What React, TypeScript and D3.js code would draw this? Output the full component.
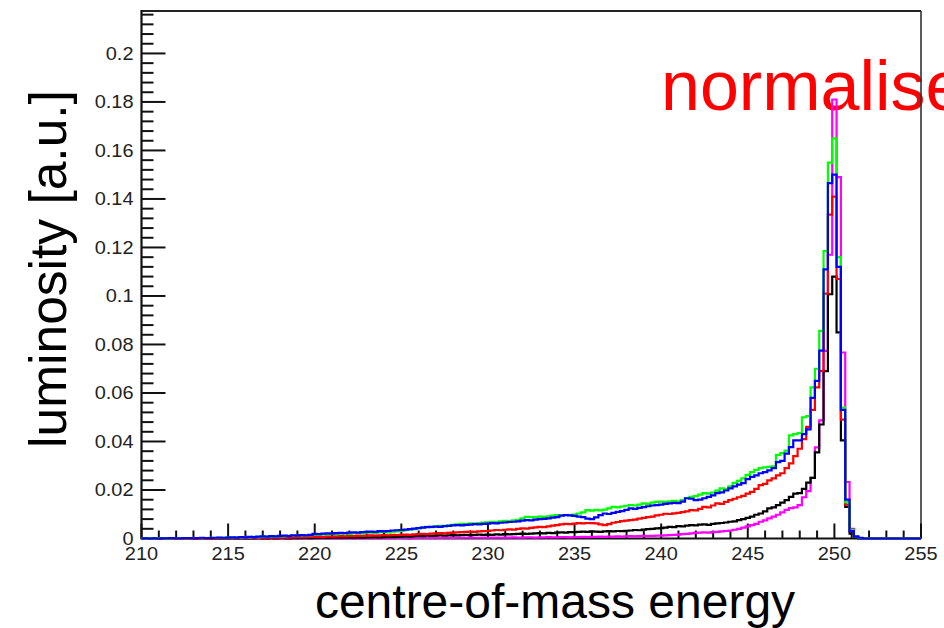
import React from 'react';
import * as d3 from 'd3';

const X_MIN = 210;
const X_MAX = 255;
const Y_MAX = 0.2175;
const BIN_WIDTH = 0.25;
const FIRST_BIN_LOW = 209.875;

const xTickLabels = ['210', '215', '220', '225', '230', '235', '240', '245', '250', '255'];
const yTickLabels = ['0', '0.02', '0.04', '0.06', '0.08', '0.1', '0.12', '0.14', '0.16', '0.18', '0.2'];

// bin contents, bins of 0.25 centred on 210, 210.25, ... 255
const magenta = [
  0, 0, 0, 0, 0, 0, 0, 0, 0, 0, 0, 0, 0, 0, 0, 0, 0, 0, 0, 0,
  0, 0, 0, 0, 0, 0, 0, 0, 0, 0, 0, 0, 0, 0, 0, 0, 0, 0, 0, 0,
  0, 0, 0, 0.0001, 0, 0.0001, 0, 0.0001, 0.0001, 0, 0.0001, 0.0001, 0.0001, 0.0002, 0.0001, 0.0001, 0.0002, 0.0001, 0.0002, 0.0002,
  0.0002, 0.0002, 0.0001, 0.0002, 0.0002, 0.0003, 0.0002, 0.0002, 0.0003, 0.0002, 0.0003, 0.0003, 0.0002, 0.0003, 0.0003, 0.0003, 0.0004, 0.0003, 0.0003, 0.0004,
  0.0003, 0.0004, 0.0004, 0.0003, 0.0004, 0.0004, 0.0005, 0.0004, 0.0004, 0.0005, 0.0005, 0.0004, 0.0005, 0.0005, 0.0006, 0.0005, 0.0005, 0.0006, 0.0006, 0.0005,
  0.0006, 0.0006, 0.0007, 0.0006, 0.0007, 0.0007, 0.0008, 0.0007, 0.0008, 0.0008, 0.0009, 0.0008, 0.0009, 0.001, 0.0009, 0.001, 0.0011, 0.001, 0.0011, 0.0012,
  0.0012, 0.0013, 0.0014, 0.0015, 0.0016, 0.0018, 0.0019, 0.0021, 0.0023, 0.0024, 0.0025, 0.0024, 0.0026, 0.0027, 0.0029, 0.0031, 0.0033, 0.0036, 0.004, 0.0045,
  0.005, 0.0055, 0.006, 0.0069, 0.0075, 0.0083, 0.009, 0.0098, 0.0108, 0.0118, 0.0125, 0.0128, 0.0138, 0.017, 0.0195, 0.025, 0.0376, 0.0487, 0.0774, 0.117,
  0.181, 0.149, 0.0767, 0.0233, 0.004, 0.001, 0.0002, 0, 0, 0, 0, 0, 0, 0, 0, 0, 0, 0, 0, 0, 0,
];

const black = [
  0, 0, 0, 0, 0, 0, 0, 0, 0, 0, 0, 0, 0, 0, 0, 0, 0, 0, 0, 0,
  0, 0, 0, 0, 0, 0, 0, 0.0001, 0, 0, 0.0001, 0, 0.0001, 0.0001, 0, 0.0001, 0.0001, 0.0001, 0.0002, 0.0001,
  0.0002, 0.0002, 0.0003, 0.0002, 0.0003, 0.0003, 0.0004, 0.0003, 0.0004, 0.0004, 0.0005, 0.0004, 0.0005, 0.0005, 0.0006, 0.0005, 0.0006, 0.0007, 0.0006, 0.0007,
  0.0008, 0.0009, 0.0008, 0.001, 0.0011, 0.001, 0.0012, 0.0011, 0.0012, 0.0013, 0.0012, 0.0013, 0.0014, 0.0013, 0.0014, 0.0015, 0.0014, 0.0015, 0.0016, 0.0015,
  0.0016, 0.0015, 0.0017, 0.0016, 0.0018, 0.0017, 0.0018, 0.0019, 0.002, 0.0019, 0.002, 0.0021, 0.0022, 0.0021, 0.0023, 0.0022, 0.0024, 0.0025, 0.0024, 0.0026,
  0.0026, 0.0027, 0.0028, 0.0027, 0.0029, 0.0028, 0.0027, 0.0029, 0.003, 0.0029, 0.0031, 0.003, 0.0032, 0.0033, 0.0035, 0.0034, 0.0037, 0.0039, 0.004, 0.0042,
  0.0043, 0.0045, 0.0048, 0.0047, 0.0051, 0.005, 0.0053, 0.0055, 0.0054, 0.0057, 0.0058, 0.0056, 0.006, 0.0062, 0.0064, 0.0066, 0.0069, 0.0071, 0.0076, 0.008,
  0.0085, 0.009, 0.0098, 0.0103, 0.0112, 0.0124, 0.0128, 0.0138, 0.0148, 0.0158, 0.0172, 0.0185, 0.0187, 0.0205, 0.023, 0.025, 0.0355, 0.047, 0.069, 0.1007,
  0.108, 0.085, 0.0405, 0.013, 0.002, 0.0004, 0, 0, 0, 0, 0, 0, 0, 0, 0, 0, 0, 0, 0, 0, 0,
];

const red = [
  0, 0, 0, 0, 0, 0, 0, 0, 0, 0, 0, 0, 0, 0.0001, 0, 0, 0.0001, 0, 0.0001, 0.0001,
  0.0001, 0.0001, 0.0002, 0.0001, 0.0002, 0.0002, 0.0003, 0.0002, 0.0003, 0.0003, 0.0004, 0.0003, 0.0004, 0.0005, 0.0004, 0.0005, 0.0006, 0.0005, 0.0006, 0.0007,
  0.0007, 0.0008, 0.0007, 0.0009, 0.0008, 0.0009, 0.001, 0.0009, 0.0011, 0.001, 0.0012, 0.0011, 0.0012, 0.0013, 0.0012, 0.0013, 0.0014, 0.0013, 0.0015, 0.0014,
  0.0015, 0.0016, 0.0015, 0.0017, 0.0018, 0.0019, 0.0018, 0.002, 0.0021, 0.0022, 0.0021, 0.0023, 0.0024, 0.0025, 0.0026, 0.0027, 0.0028, 0.0027, 0.0029, 0.003,
  0.0031, 0.0033, 0.0035, 0.0034, 0.0036, 0.0038, 0.0037, 0.004, 0.0042, 0.0041, 0.0044, 0.0046, 0.0048, 0.0047, 0.005, 0.0053, 0.0055, 0.0058, 0.006, 0.0059,
  0.0061, 0.0063, 0.0062, 0.0064, 0.0063, 0.0062, 0.0058, 0.0055, 0.0059, 0.0065, 0.0068, 0.0072, 0.0074, 0.0076, 0.0078, 0.0082, 0.0085, 0.0088, 0.009, 0.0095,
  0.0098, 0.0102, 0.0101, 0.0104, 0.0106, 0.0109, 0.0112, 0.0117, 0.0116, 0.0122, 0.013, 0.0128, 0.0136, 0.0145, 0.0143, 0.0151, 0.0158, 0.0164, 0.017, 0.0176,
  0.0185, 0.0192, 0.0205, 0.022, 0.0225, 0.024, 0.0248, 0.026, 0.0269, 0.029, 0.031, 0.034, 0.037, 0.041, 0.046, 0.053, 0.0623, 0.069, 0.101, 0.1335,
  0.141, 0.107, 0.049, 0.014, 0.003, 0.0007, 0.0002, 0, 0, 0, 0, 0, 0, 0, 0, 0, 0, 0, 0, 0, 0,
];

const green = [
  0, 0, 0.0001, 0, 0.0001, 0.0001, 0, 0.0001, 0.0001, 0.0002, 0.0001, 0.0001, 0.0002, 0.0002, 0.0001, 0.0002, 0.0003, 0.0002, 0.0003, 0.0003,
  0.0004, 0.0003, 0.0005, 0.0004, 0.0006, 0.0005, 0.0007, 0.0006, 0.0008, 0.0007, 0.0009, 0.0008, 0.001, 0.0009, 0.0011, 0.0012, 0.0011, 0.0013, 0.0012, 0.0014,
  0.0016, 0.0015, 0.0018, 0.0017, 0.0019, 0.0018, 0.002, 0.0021, 0.0019, 0.0022, 0.0023, 0.0021, 0.0024, 0.0025, 0.0023, 0.0026, 0.0027, 0.0025, 0.0028, 0.0029,
  0.0031, 0.0034, 0.0036, 0.0039, 0.0043, 0.0046, 0.0048, 0.0047, 0.005, 0.0052, 0.0051, 0.0054, 0.0056, 0.0058, 0.006, 0.0059, 0.0062, 0.0061, 0.0064, 0.0066,
  0.0067, 0.0069, 0.0068, 0.0071, 0.0073, 0.0072, 0.0075, 0.0077, 0.0083, 0.0089, 0.0088, 0.0087, 0.009, 0.0089, 0.0091, 0.0094, 0.0096, 0.0095, 0.0097, 0.0096,
  0.0099, 0.0103, 0.0108, 0.0117, 0.0115, 0.0118, 0.0116, 0.0119, 0.0124, 0.013, 0.0128, 0.0132, 0.0135, 0.0138, 0.0136, 0.014, 0.0145, 0.0143, 0.0148, 0.0151,
  0.0152, 0.015, 0.0153, 0.0155, 0.0152, 0.0158, 0.0166, 0.0172, 0.0175, 0.0181, 0.0187, 0.0185, 0.0189, 0.0197, 0.0207, 0.0204, 0.0215, 0.0229, 0.0238, 0.0248,
  0.0262, 0.0274, 0.0283, 0.029, 0.0293, 0.0295, 0.0298, 0.0345, 0.0352, 0.0362, 0.0425, 0.043, 0.0435, 0.05, 0.0505, 0.0623, 0.07, 0.0856, 0.1185, 0.155,
  0.165, 0.116, 0.054, 0.015, 0.0035, 0.0008, 0.0002, 0, 0, 0, 0, 0, 0, 0, 0, 0, 0, 0, 0, 0, 0,
];

const blue = [
  0, 0.0001, 0, 0.0001, 0, 0.0001, 0.0001, 0.0002, 0.0001, 0.0001, 0.0002, 0.0002, 0.0001, 0.0002, 0.0003, 0.0002, 0.0002, 0.0003, 0.0004, 0.0003,
  0.0004, 0.0005, 0.0004, 0.0006, 0.0005, 0.0007, 0.0006, 0.0008, 0.0009, 0.0008, 0.001, 0.0009, 0.0011, 0.0012, 0.001, 0.0013, 0.0012, 0.0014, 0.0013, 0.0015,
  0.0019, 0.0018, 0.002, 0.0021, 0.002, 0.0022, 0.0023, 0.0022, 0.0024, 0.0025, 0.0024, 0.0026, 0.0027, 0.0028, 0.0027, 0.003, 0.0029, 0.0031, 0.0033, 0.0034,
  0.0035, 0.0037, 0.0039, 0.0041, 0.0043, 0.0045, 0.0047, 0.0048, 0.0049, 0.0048, 0.0051, 0.0052, 0.0054, 0.0055, 0.0054, 0.0056, 0.0057, 0.0059, 0.0058, 0.006,
  0.0061, 0.0063, 0.0062, 0.0065, 0.0066, 0.0068, 0.0069, 0.0071, 0.0074, 0.0076, 0.0075, 0.0078, 0.008, 0.0081, 0.0083, 0.0086, 0.0088, 0.0094, 0.0096, 0.0095,
  0.0093, 0.009, 0.0088, 0.0082, 0.008, 0.0087, 0.0096, 0.0103, 0.0101, 0.0106, 0.011, 0.0113, 0.0118, 0.0124, 0.0122, 0.0126, 0.0129, 0.0133, 0.0136, 0.0138,
  0.014, 0.0143, 0.0145, 0.0147, 0.0146, 0.0152, 0.0166, 0.0164, 0.0158, 0.016, 0.0166, 0.0172, 0.0178, 0.0187, 0.019, 0.0198, 0.0207, 0.0215, 0.0222, 0.0228,
  0.0245, 0.0254, 0.026, 0.0269, 0.0274, 0.0281, 0.029, 0.0315, 0.032, 0.035, 0.0377, 0.0405, 0.0405, 0.043, 0.045, 0.058, 0.065, 0.0775, 0.111, 0.1465,
  0.15, 0.112, 0.053, 0.016, 0.003, 0.0008, 0.0003, 0, 0, 0, 0, 0, 0, 0, 0, 0, 0, 0, 0, 0, 0,
];

const seriesList = [
  { name: 'magenta', color: '#ff00ff', values: magenta },
  { name: 'black', color: '#000000', values: black },
  { name: 'red', color: '#ff0000', values: red },
  { name: 'green', color: '#00ff00', values: green },
  { name: 'blue', color: '#0000ff', values: blue },
];

const W = 944;
const H = 628;
const LEFT = 141.5;
const RIGHT = 921;
const TOP = 11;
const BOTTOM = 538.5;
const FONT = '"Liberation Sans", Arial, Helvetica, sans-serif';

export default function App() {
  const x = d3.scaleLinear().domain([X_MIN, X_MAX]).range([LEFT, RIGHT]);
  const y = d3.scaleLinear().domain([0, Y_MAX]).range([BOTTOM, TOP]);

  const line = d3
    .line<[number, number]>()
    .x((d) => x(d[0]))
    .y((d) => y(d[1]));

  const stepPath = (vals: number[]) => {
    const pts: [number, number][] = [];
    vals.forEach((v, i) => {
      const lo = FIRST_BIN_LOW + i * BIN_WIDTH;
      pts.push([lo, v], [lo + BIN_WIDTH, v]);
    });
    return line(pts) || '';
  };

  const xMajor = xTickLabels.map((t) => +t);
  const xMinor = d3.range(X_MIN, X_MAX + 0.001, 1).filter((v) => !xMajor.includes(v));
  const yMajor = yTickLabels.map((t) => +t);
  const yMinor = d3
    .range(0, 55)
    .map((i) => +(i * 0.004).toFixed(4))
    .filter((v) => v <= Y_MAX && !yMajor.some((m) => Math.abs(m - v) < 1e-6));

  return (
    <div style={{ position: 'absolute', left: 0, top: 0, width: W, height: H, background: '#fff' }}>
      <svg width={W} height={H} style={{ display: 'block' }}>
        <defs>
          <clipPath id="frameClip">
            <rect x={LEFT} y={0} width={RIGHT - LEFT} height={BOTTOM + 3} />
          </clipPath>
        </defs>
        <rect x={0} y={0} width={W} height={H} fill="#fff" />

        <text x={661} y={110} fontFamily={FONT} fontSize={70} fill="#ff0000">
          normalised
        </text>

        {/* frame */}
        <line x1={LEFT} x2={RIGHT} y1={TOP} y2={TOP} stroke="#222" strokeWidth={2} />
        <line x1={RIGHT} x2={RIGHT} y1={TOP} y2={BOTTOM} stroke="#333" strokeWidth={1.6} />
        <line x1={LEFT} x2={LEFT} y1={TOP - 1} y2={BOTTOM + 1} stroke="#111" strokeWidth={2.2} />
        <line x1={LEFT} x2={RIGHT} y1={BOTTOM} y2={BOTTOM} stroke="#111" strokeWidth={2.2} />

        {/* y ticks */}
        {yMajor.map((v) => (
          <line key={'ym' + v} x1={LEFT} x2={LEFT + 24} y1={y(v)} y2={y(v)} stroke="#111" strokeWidth={2} />
        ))}
        {yMinor.map((v) => (
          <line key={'yn' + v} x1={LEFT} x2={LEFT + 12} y1={y(v)} y2={y(v)} stroke="#111" strokeWidth={2} />
        ))}
        {yTickLabels.map((t) => (
          <text
            key={'yl' + t}
            transform={`translate(${LEFT - 8},${y(+t) + 6.3}) scale(1.14,1)`}
            textAnchor="end"
            fontFamily={FONT}
            fontSize={17.5}
            fill="#222"
          >
            {t}
          </text>
        ))}

        {/* x ticks */}
        {xMajor.map((v) => (
          <line key={'xm' + v} x1={x(v)} x2={x(v)} y1={BOTTOM} y2={BOTTOM - 15} stroke="#111" strokeWidth={2} />
        ))}
        {xMinor.map((v) => (
          <line key={'xn' + v} x1={x(v)} x2={x(v)} y1={BOTTOM} y2={BOTTOM - 8} stroke="#111" strokeWidth={2} />
        ))}
        {xTickLabels.map((t) => (
          <text
            key={'xl' + t}
            transform={`translate(${x(+t)},${560}) scale(1.14,1)`}
            textAnchor="middle"
            fontFamily={FONT}
            fontSize={17.5}
            fill="#222"
          >
            {t}
          </text>
        ))}

        {/* histograms */}
        <g clipPath="url(#frameClip)">
          {seriesList.map((s) => (
            <path
              key={s.name}
              d={stepPath(s.values)}
              fill="none"
              stroke={s.color}
              strokeWidth={2.2}
              strokeLinejoin="miter"
            />
          ))}
        </g>

        {/* axis titles */}
        <text x={555} y={618} textAnchor="middle" fontFamily={FONT} fontSize={48} fill="#000">
          centre-of-mass energy
        </text>
        <text
          transform={`translate(66,269) rotate(-90)`}
          textAnchor="middle"
          fontFamily={FONT}
          fontSize={51.5}
          fill="#000"
        >
          luminosity [a.u.]
        </text>
      </svg>
    </div>
  );
}
